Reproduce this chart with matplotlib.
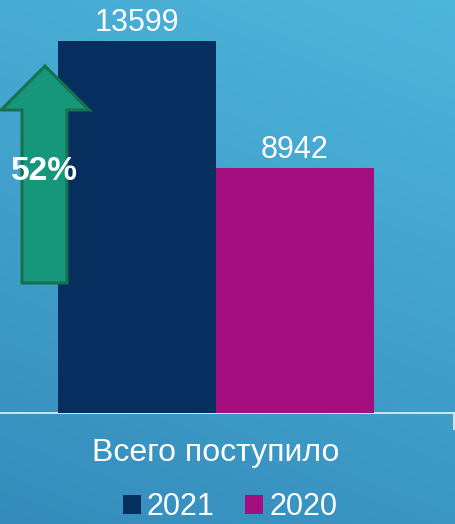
import matplotlib.pyplot as plt
import numpy as np
from matplotlib.patches import Polygon

plt.rcParams['font.family'] = ['Liberation Sans', 'DejaVu Sans']

category = 'Всего поступило'
series = ['2021', '2020']
values = [13599, 8942]
colors = ['#062f5f', '#a30f7e']
growth = '52%'

W, H = 456, 524
fig = plt.figure(figsize=(W / 100, H / 100), dpi=100)

# gradient background
bg = fig.add_axes([0, 0, 1, 1], zorder=0)
yy, xx = np.mgrid[0:1:200j, 0:1:200j]
t = 0.75 * yy + 0.25 * xx
top = np.array([0x4d, 0xb6, 0xdb]) / 255
bot = np.array([0x35, 0x8c, 0xbc]) / 255
img = bot[None, None, :] * (1 - t[..., None]) + top[None, None, :] * t[..., None]
bg.imshow(img, origin='lower', extent=[0, 1, 0, 1], aspect='auto')
bg.axis('off')

# main axes: baseline at y=413 px, left at 0, right at 455
ax = fig.add_axes([0, (H - 413) / H, 454 / W, 413 / H], zorder=1)
ax.patch.set_alpha(0)
width = 0.35
xlim = (-0.479, 0.528)
ax.set_xlim(*xlim)
ax.set_ylim(0, 15100)

offsets = [-width / 2, width / 2]
for off, v, c, lab in zip(offsets, values, colors, series):
    ax.bar(off, v, width, color=c, label=lab, zorder=3)
    ax.text(off, v + 120, str(v), ha='center', va='bottom',
            fontsize=22, color='white', zorder=4)

for s in ['top', 'left', 'right']:
    ax.spines[s].set_visible(False)
ax.spines['bottom'].set_color('#e8f2f8')
ax.spines['bottom'].set_linewidth(1.2)
ax.set_yticks([])
ax.set_xticks([0])
ax.set_xticklabels([category], fontsize=23, color='white')
ax.tick_params(axis='x', which='major', length=0, pad=18)
ax.set_xticks([xlim[1]], minor=True)
ax.tick_params(axis='x', which='minor', length=12, width=1.2, color='#e8f2f8')

# green growth arrow (figure pixel coords)
def fx(px):
    return px / W

def fy(py):
    return 1 - py / H

arrow_pts = [(22, 283), (22, 110), (1, 110), (45, 66), (89, 110),
             (67, 110), (67, 283)]
arrow = Polygon([(fx(x), fy(y)) for x, y in arrow_pts], closed=True,
                transform=fig.transFigure, facecolor='#16967a',
                edgecolor='#17714c', linewidth=2.2, zorder=5)
fig.patches.append(arrow)
fig.text(fx(44), fy(172), growth, ha='center', va='center', fontsize=24,
         fontweight='bold', color='white', zorder=6)

leg = fig.legend(loc='center', bbox_to_anchor=(fx(230), fy(507)), ncol=2,
                 frameon=False, fontsize=22, labelcolor='white',
                 handlelength=0.58, handleheight=0.58, handletextpad=0.2,
                 columnspacing=1.0, borderpad=0.1)

fig.savefig('out.png', dpi=100)
